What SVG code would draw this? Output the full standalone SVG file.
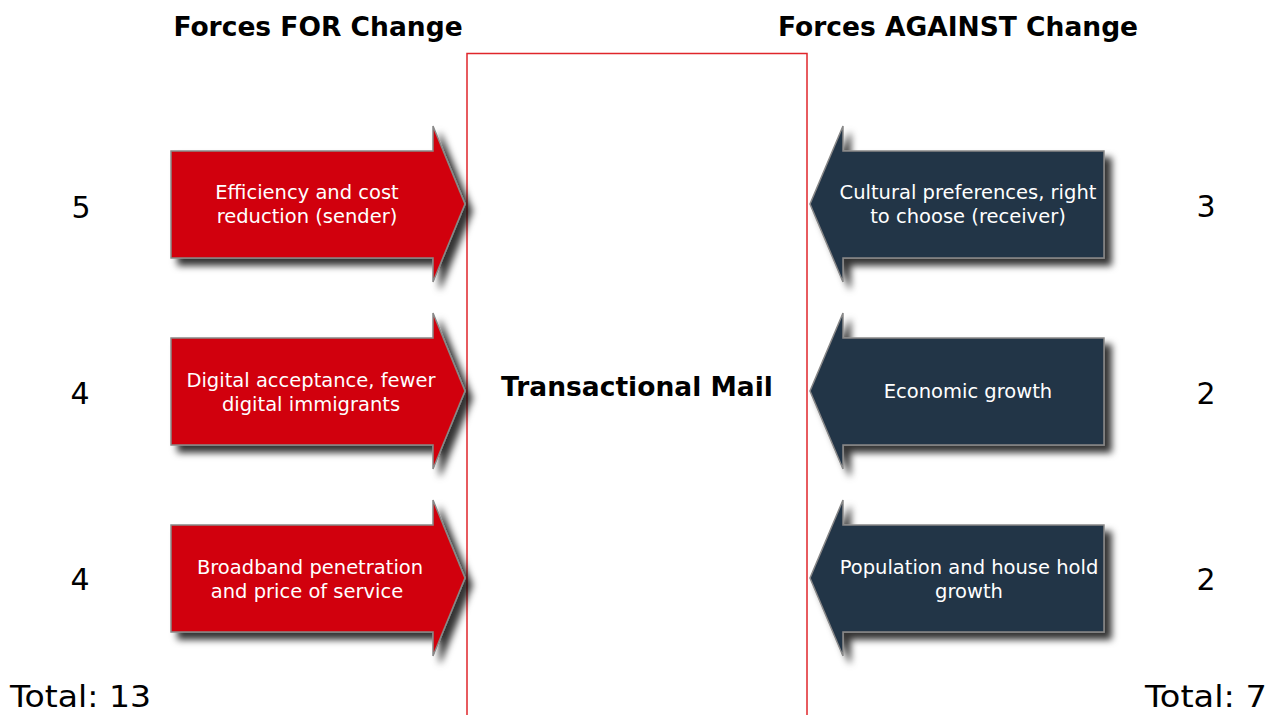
<svg xmlns="http://www.w3.org/2000/svg" width="1277" height="715" viewBox="0 0 1277 715">
<defs>
<filter id="sh" x="-20%" y="-20%" width="150%" height="150%">
<feDropShadow dx="7" dy="7" stdDeviation="3.5" flood-color="#000" flood-opacity="0.8"/>
</filter>
<style>
.t{font-family:"DejaVu Sans",Verdana,sans-serif;}
.hd{font-size:26.5px;font-weight:bold;fill:#000;text-anchor:middle;}
.num{font-size:30px;fill:#000;text-anchor:middle;}
.tot{font-size:30px;fill:#000;}
.lab{font-size:19.5px;fill:#fff;text-anchor:middle;}
.red{fill:#d1060a;stroke:#888;stroke-width:1.5;filter:url(#sh);}
.dark{fill:#243447;stroke:#888;stroke-width:1.5;filter:url(#sh);}
</style>
</defs>
<rect width="1277" height="715" fill="#fff"/>
<text class="t hd" x="318" y="36">Forces FOR Change</text>
<text class="t hd" x="958" y="36">Forces AGAINST Change</text>
<g id="center">
<rect x="467" y="53.5" width="340" height="670" fill="#fff" stroke="#e0262b" stroke-width="1.5"/>
<text class="t hd" x="637" y="396">Transactional Mail</text>
</g>
<g id="for1">
<path class="red" d="M171,151 H433 V126 L465,204 L433,282 V258 H171 Z"/>
<text class="t lab" x="307" y="199">Efficiency and cost</text>
<text class="t lab" x="307" y="223">reduction (sender)</text>
</g>
<g id="for2">
<path class="red" d="M171,338 H433 V313 L465,391 L433,469 V445 H171 Z"/>
<text class="t lab" x="311" y="387">Digital acceptance, fewer</text>
<text class="t lab" x="311" y="411">digital immigrants</text>
</g>
<g id="for3">
<path class="red" d="M171,525 H433 V500 L465,578 L433,656 V632 H171 Z"/>
<text class="t lab" x="310" y="574">Broadband penetration</text>
<text class="t lab" x="307" y="598">and price of service</text>
</g>
<g id="against1">
<path class="dark" d="M1104,151 H843 V126 L810,204 L843,282 V258 H1104 Z"/>
<text class="t lab" x="968" y="199">Cultural preferences, right</text>
<text class="t lab" x="968" y="223">to choose (receiver)</text>
</g>
<g id="against2">
<path class="dark" d="M1104,338 H843 V313 L810,391 L843,469 V445 H1104 Z"/>
<text class="t lab" x="968" y="398">Economic growth</text>
</g>
<g id="against3">
<path class="dark" d="M1104,525 H843 V500 L810,578 L843,656 V632 H1104 Z"/>
<text class="t lab" x="969" y="574">Population and house hold</text>
<text class="t lab" x="969" y="598">growth</text>
</g>
<g id="scores">
<text class="t num" x="81" y="218">5</text>
<text class="t num" x="80" y="404">4</text>
<text class="t num" x="80" y="590">4</text>
<text class="t num" x="1206" y="217">3</text>
<text class="t num" x="1206" y="404">2</text>
<text class="t num" x="1206" y="590">2</text>
<text class="t tot" x="10" y="707" textLength="141" lengthAdjust="spacingAndGlyphs">Total: 13</text>
<text class="t tot" x="1145" y="707" textLength="122" lengthAdjust="spacingAndGlyphs">Total: 7</text>
</g>
</svg>
